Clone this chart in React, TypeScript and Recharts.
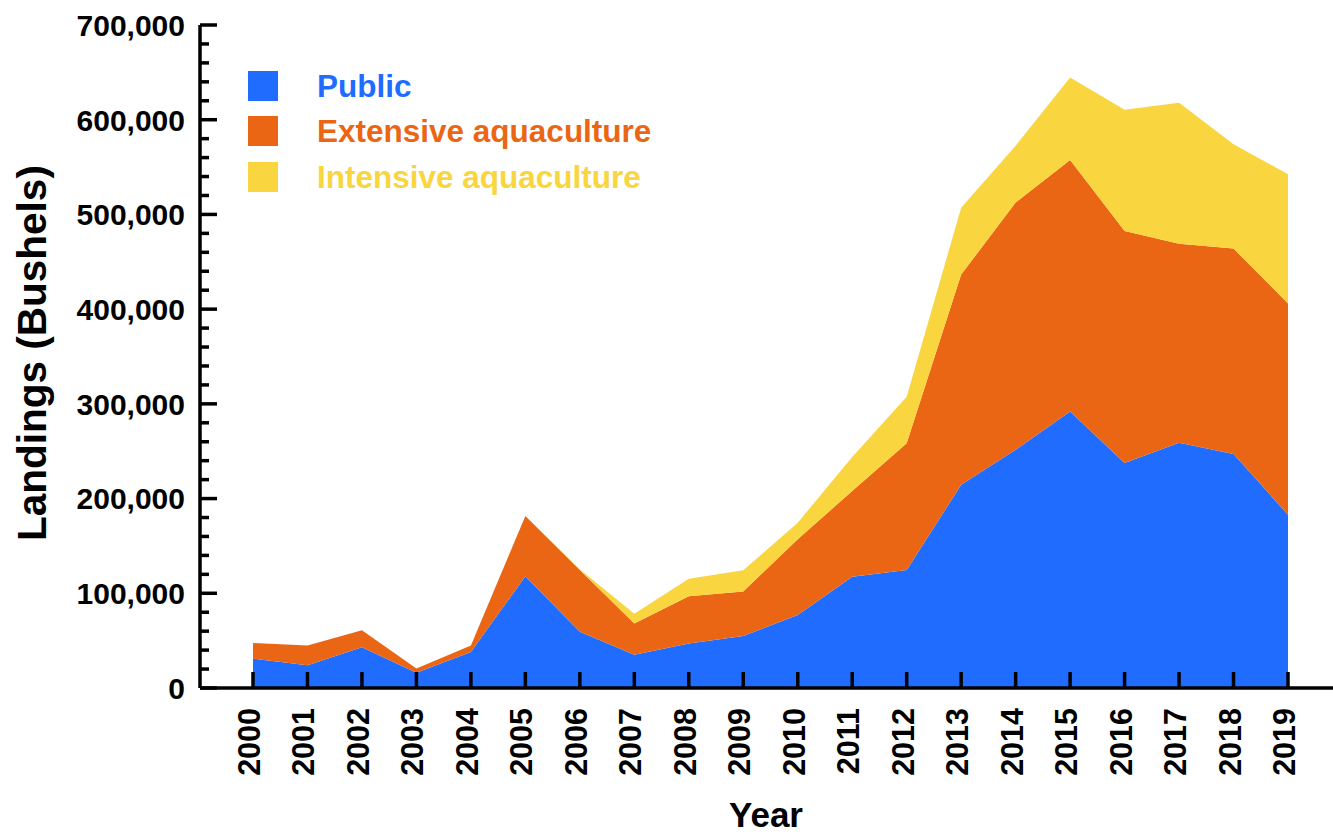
import { AreaChart, Area, XAxis, YAxis, Legend } from "recharts";

const FONT = '"Liberation Sans", Arial, Helvetica, sans-serif';

// landings by year (bushels)
const years = [
  "2000", "2001", "2002", "2003", "2004", "2005", "2006", "2007", "2008", "2009",
  "2010", "2011", "2012", "2013", "2014", "2015", "2016", "2017", "2018", "2019",
];
const publicLandings = [
  31000, 24000, 43000, 16000, 38000, 118000, 59500, 35000, 47000, 55000,
  77000, 117500, 124500, 214500, 251500, 292000, 237500, 259000, 247000, 183000,
];
const extensiveLandings = [
  16500, 21000, 18000, 4700, 7000, 63500, 65000, 33000, 50000, 47000,
  80000, 90500, 134000, 222000, 261000, 265500, 245000, 210000, 217000, 223000,
];
const intensiveLandings = [
  0, 0, 0, 0, 0, 0, 1000, 10500, 18300, 22200,
  17500, 36000, 49000, 70500, 60000, 87000, 128000, 149000, 110000, 136500,
];
const yTicks = [
  0, 20000, 40000, 60000, 80000, 100000, 120000, 140000, 160000, 180000,
  200000, 220000, 240000, 260000, 280000, 300000, 320000, 340000, 360000, 380000,
  400000, 420000, 440000, 460000, 480000, 500000, 520000, 540000, 560000, 580000,
  600000, 620000, 640000, 660000, 680000, 700000,
];

const series = [
  { key: "public", name: "Public", color: "#206CFF" },
  { key: "extensive", name: "Extensive aquaculture", color: "#EB6614" },
  { key: "intensive", name: "Intensive aquaculture", color: "#F9D540" },
];

const data = years.map((year, i) => ({
  year,
  public: publicLandings[i],
  extensive: extensiveLandings[i],
  intensive: intensiveLandings[i],
}));

function YTick({ x, y, payload }: any) {
  const major = payload.value % 100000 === 0;
  return (
    <g>
      <line x1={x} x2={x + (major ? 17 : 9)} y1={y} y2={y} stroke="#000" strokeWidth={3.5} />
      {major && (
        <text
          x={x - 15}
          y={y}
          dy="0.36em"
          textAnchor="end"
          fontFamily={FONT}
          fontWeight="bold"
          fontSize={30}
          fill="#000"
        >
          {payload.value.toLocaleString("en-US")}
        </text>
      )}
    </g>
  );
}

function XTick({ x, y, payload }: any) {
  const tx = x + 7;
  const ty = y + 20;
  return (
    <g>
      <line x1={x} x2={x} y1={y} y2={y - 16} stroke="#000" strokeWidth={3.5} />
      <text
        x={tx}
        y={ty}
        transform={`rotate(-90, ${tx}, ${ty})`}
        textAnchor="end"
        fontFamily={FONT}
        fontWeight="bold"
        fontSize={30.5}
        fill="#000"
      >
        {payload.value}
      </text>
    </g>
  );
}

function LegendBox() {
  return (
    <div style={{ fontFamily: FONT, fontWeight: "bold", fontSize: 31.5 }}>
      {series.map((s) => (
        <div key={s.key} style={{ display: "flex", alignItems: "center", height: 45.5 }}>
          <div style={{ width: 30, height: 30, background: s.color, marginRight: 39 }} />
          <span style={{ color: s.color, lineHeight: "30px" }}>{s.name}</span>
        </div>
      ))}
    </div>
  );
}

export default function App() {
  return (
    <div style={{ position: "absolute", left: 0, top: 0, background: "#fff" }}>
      <AreaChart
        width={1333}
        height={837}
        data={data}
        margin={{ top: 25, right: 0, left: 0, bottom: 0 }}
      >
        {series.map((s) => (
          <Area
            key={s.key}
            type="linear"
            dataKey={s.key}
            name={s.name}
            stackId="landings"
            fill={s.color}
            fillOpacity={1}
            stroke="none"
            isAnimationActive={false}
          />
        ))}
        <XAxis
          dataKey="year"
          height={149}
          interval={0}
          padding={{ left: 53, right: 45 }}
          axisLine={{ stroke: "#000", strokeWidth: 3.5 }}
          tickLine={false}
          tickSize={0}
          tickMargin={0}
          tick={<XTick />}
          label={() => (
            <text
              x={766}
              y={827}
              textAnchor="middle"
              fontFamily={FONT}
              fontWeight="bold"
              fontSize={35}
              fill="#000"
            >
              Year
            </text>
          )}
        />
        <YAxis
          width={200}
          domain={[0, 700000]}
          ticks={yTicks}
          interval={0}
          axisLine={{ stroke: "#000", strokeWidth: 3.5 }}
          tickLine={false}
          tickSize={0}
          tickMargin={0}
          tick={<YTick />}
          label={() => (
            <text
              x={32}
              y={353}
              transform="rotate(-90, 32, 353)"
              textAnchor="middle"
              dominantBaseline="central"
              fontFamily={FONT}
              fontWeight="bold"
              fontSize={40.5}
              fill="#000"
            >
              Landings (Bushels)
            </text>
          )}
        />
        <Legend
          layout="vertical"
          align="center"
          verticalAlign="middle"
          wrapperStyle={{ top: 63, left: 248, width: "auto" }}
          content={() => <LegendBox />}
        />
      </AreaChart>
    </div>
  );
}
